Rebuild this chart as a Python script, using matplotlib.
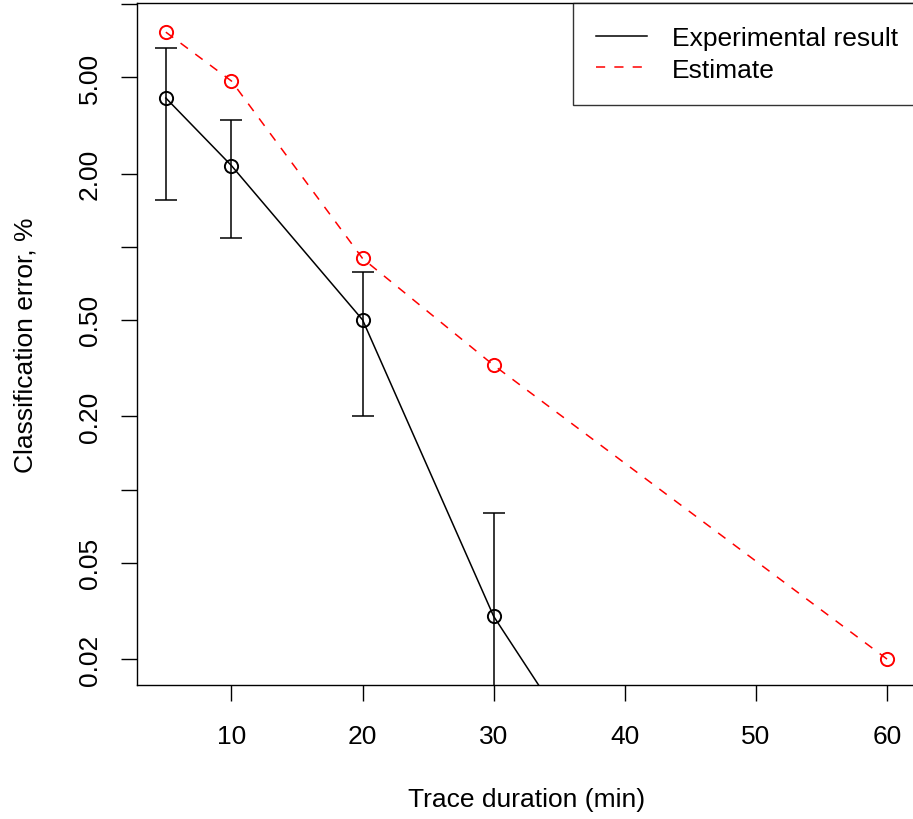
import matplotlib
matplotlib.use("Agg")
import matplotlib.pyplot as plt
import numpy as np

plt.rcParams['font.family'] = ['Liberation Sans', 'DejaVu Sans']

# data
duration = [5, 10, 20, 30, 60]
exp_err = [4.1, 2.16, 0.5, 0.03, 0.0001]
exp_hi = [6.6, 3.33, 0.79, 0.08]
exp_lo = [1.56, 1.09, 0.2, 0.001]
est_err = [7.66, 4.82, 0.895, 0.325, 0.02]

xticks = [10, 20, 30, 40, 50, 60]
yticks = [0.02, 0.05, 0.1, 0.2, 0.5, 1, 2, 5, 10]
ylabels = ["0.02", "0.05", "", "0.20", "0.50", "", "2.00", "5.00", ""]

fs = 19
fig = plt.figure(figsize=(9.13, 8.2), dpi=100)
ax = fig.add_axes([137/913, (820-685.7)/820, (916-137)/913, (685.7-4)/820])
ax.set_yscale('log')

ex = np.array(duration[:4])
ey = np.array(exp_err[:4])
ax.errorbar(ex, ey, yerr=[ey - np.array(exp_lo), np.array(exp_hi) - ey],
            fmt='none', ecolor='black', elinewidth=1.1, capsize=7.6, capthick=1.1)
ax.plot(duration, exp_err, color='black', lw=1.1, marker='o', ms=9.5,
        mfc='none', mec='black', mew=1.4, label='Experimental result')
ax.plot(duration, est_err, color='red', lw=1.1, ls=(0, (6, 6)), marker='o', ms=9.5,
        mfc='none', mec='red', mew=1.4, label='Estimate')

ax.set_xlim(2.8, 62.2)
ax.set_ylim(0.0157, 10.1)
ax.set_xticks(xticks)
ax.set_xticklabels([str(t) for t in xticks], fontsize=fs)
ax.set_yticks(yticks)
ax.set_yticklabels(ylabels, fontsize=fs, rotation=90, va='center')
ax.minorticks_off()
ax.tick_params(axis='both', direction='out', length=11.5, width=1.0, color='black')
ax.tick_params(axis='x', pad=17)
ax.tick_params(axis='y', pad=14)
for s in ax.spines.values():
    s.set_linewidth(1.0)

ax.set_xlabel('Trace duration (min)', fontsize=fs, labelpad=28)
ax.set_ylabel('Classification error, %', fontsize=fs, labelpad=29)

leg = ax.legend(loc='upper right', bbox_to_anchor=(1 + 5/779, 1), fontsize=fs,
                frameon=True, fancybox=False, borderaxespad=0, handlelength=1.9,
                handletextpad=0.95, labelspacing=0.28, borderpad=0.88)
leg.get_frame().set_edgecolor('black')
leg.get_frame().set_linewidth(1.0)
for h in leg.legend_handles:
    h.set_marker('')

fig.savefig('out.png', dpi=100)
